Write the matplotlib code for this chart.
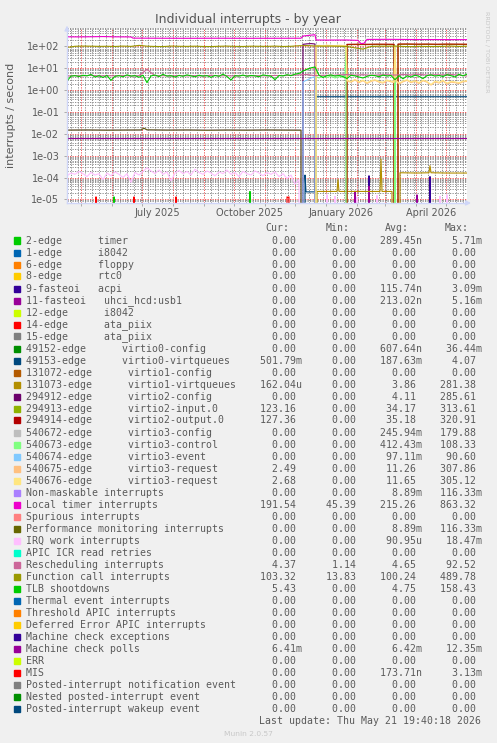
import matplotlib
matplotlib.use("Agg")
import matplotlib.pyplot as plt
import matplotlib.dates as mdates
from matplotlib.patches import Rectangle
from matplotlib.ticker import LogLocator, NullFormatter, FixedLocator, FuncFormatter
import numpy as np
from datetime import datetime, timedelta

W, H = 497, 743

title = "Individual interrupts - by year"
ylabel = "interrupts / second"
last_update = "Last update: Thu May 21 19:40:18 2026"
version = "Munin 2.0.57"
watermark = "RRDTOOL / TOBI OETIKER"
end_time = datetime(2026, 5, 21, 19, 40, 18)
span_days = 400
start_time = end_time - timedelta(days=span_days)

y_ticks = [1e-5, 1e-4, 1e-3, 1e-2, 1e-1, 1e0, 1e1, 1e2]
x_label_months = [datetime(2025, 7, 1), datetime(2025, 10, 1), datetime(2026, 1, 1), datetime(2026, 4, 1)]
x_label_texts = ["July 2025", "October 2025", "January 2026", "April 2026"]
headers = ["Cur:", "Min:", "Avg:", "Max:"]

labels = [
    "2-edge      timer",
    "1-edge      i8042",
    "6-edge      floppy",
    "8-edge      rtc0",
    "9-fasteoi   acpi",
    "11-fasteoi   uhci_hcd:usb1",
    "12-edge      i8042",
    "14-edge      ata_piix",
    "15-edge      ata_piix",
    "49152-edge      virtio0-config",
    "49153-edge      virtio0-virtqueues",
    "131072-edge      virtio1-config",
    "131073-edge      virtio1-virtqueues",
    "294912-edge      virtio2-config",
    "294913-edge      virtio2-input.0",
    "294914-edge      virtio2-output.0",
    "540672-edge      virtio3-config",
    "540673-edge      virtio3-control",
    "540674-edge      virtio3-event",
    "540675-edge      virtio3-request",
    "540676-edge      virtio3-request",
    "Non-maskable interrupts",
    "Local timer interrupts",
    "Spurious interrupts",
    "Performance monitoring interrupts",
    "IRQ work interrupts",
    "APIC ICR read retries",
    "Rescheduling interrupts",
    "Function call interrupts",
    "TLB shootdowns",
    "Thermal event interrupts",
    "Threshold APIC interrupts",
    "Deferred Error APIC interrupts",
    "Machine check exceptions",
    "Machine check polls",
    "ERR",
    "MIS",
    "Posted-interrupt notification event",
    "Nested posted-interrupt event",
    "Posted-interrupt wakeup event",
]

palette = ["#00CC00", "#0066B3", "#FF8000", "#FFCC00", "#330099", "#990099", "#CCFF00",
           "#FF0000", "#808080", "#008F00", "#00487D", "#B35A00", "#B38F00", "#6B006B",
           "#8FB300", "#B30000", "#BEBEBE", "#80FF80", "#80C9FF", "#FFC080", "#FFE680",
           "#AA80FF", "#EE00CC", "#FF8080", "#666600", "#FFBFFF", "#00FFCC", "#CC6699",
           "#999900"]
colors = palette + palette[:11]

# legend statistics (Cur, Min, Avg, Max)
cur = [0, 0, 0, 0, 0, 0, 0, 0, 0, 0,
       501.79e-3, 0, 162.04e-6, 0, 123.16, 127.36, 0, 0, 0, 2.49,
       2.68, 0, 191.54, 0, 0, 0, 0, 4.37, 103.32, 5.43,
       0, 0, 0, 0, 6.41e-3, 0, 0, 0, 0, 0]
mins = [0, 0, 0, 0, 0, 0, 0, 0, 0, 0,
        0, 0, 0, 0, 0, 0, 0, 0, 0, 0,
        0, 0, 45.39, 0, 0, 0, 0, 1.14, 13.83, 0,
        0, 0, 0, 0, 0, 0, 0, 0, 0, 0]
avgs = [289.45e-9, 0, 0, 0, 115.74e-9, 213.02e-9, 0, 0, 0, 607.64e-9,
        187.63e-3, 0, 3.86, 4.11, 34.17, 35.18, 245.94e-3, 412.43e-3, 97.11e-3, 11.26,
        11.65, 8.89e-3, 215.26, 0, 8.89e-3, 90.95e-6, 0, 4.65, 100.24, 4.75,
        0, 0, 0, 0, 6.42e-3, 0, 173.71e-9, 0, 0, 0]
maxs = [5.71e-3, 0, 0, 0, 3.09e-3, 5.16e-3, 0, 0, 0, 36.44e-3,
        4.07, 0, 281.38, 285.61, 313.61, 320.91, 179.88, 108.33, 90.60, 307.86,
        305.12, 116.33e-3, 863.32, 0, 116.33e-3, 18.47e-3, 0, 92.52, 489.78, 158.43,
        0, 0, 0, 0, 12.35e-3, 0, 3.13e-3, 0, 0, 0]

# series values, x = days since start of graph, 0 = no interrupts
timer_days = [46, 47, 48, 182, 183, 184]
timer_vals = [0, 1.3e-5, 0, 0, 2.3e-5, 0]

acpi_days = [301, 302, 303, 362, 363, 364]
acpi_vals = [0, 1.2e-4, 0, 0, 1.1e-4, 0]

uhci_days = [287, 288, 289, 301, 302, 303, 349, 350, 351]
uhci_vals = [0, 2.4e-5, 0, 0, 4e-5, 0, 0, 1.6e-5, 0]

vq0cfg_days = [248, 249, 250]
vq0cfg_vals = [0, 2.5e-5, 0]

vq0_days = [237, 238, 239, 248, 249, 400]
vq0_vals = [0, 1.3e-4, 2.2e-5, 2.2e-5, 0.5, 0.5]

vq1_days = [249, 250, 270, 271, 272, 313, 314, 315, 325, 326, 332, 333, 350, 362, 363, 364, 380, 400]
vq1_vals = [0, 2.3e-5, 2.3e-5, 8e-5, 2.3e-5, 2.3e-5, 7e-4, 2.3e-5, 2.3e-5, 0, 0, 1.65e-4,
            1.6e-4, 1.65e-4, 3.5e-4, 1.65e-4, 1.6e-4, 1.6e-4]

v2cfg_days = [235, 236, 240, 244, 248, 249]
v2cfg_vals = [0, 125, 132, 135, 130, 0]

v2_days = [279, 280, 290, 300, 310, 320, 327, 328, 330, 331, 340, 350, 360, 370, 380, 390, 400]
v2in_vals = [0, 120, 122, 121, 123, 122, 121, 0, 0, 124, 125, 123, 124, 122, 124, 123, 123]
v2out_vals = [0, 125, 127, 126, 128, 127, 126, 0, 0, 129, 130, 128, 129, 127, 129, 128, 127]

v3cfg_days = [248, 249, 250, 379, 380, 381]
v3cfg_vals = [0, 1.5e-5, 0, 0, 1.4e-5, 0]

v3ctl_days = [248, 249, 252, 256, 260, 264, 268, 272, 276, 278, 279, 280, 327, 328, 329]
v3ctl_vals = [0, 4.2, 3.6, 4.5, 3.8, 4.4, 3.6, 4.1, 3.9, 4.0, 100, 0, 0, 105, 0]

v3evt_days = [235, 236, 240, 244, 248, 249]
v3evt_vals = [0, 2.4, 2.9, 3.6, 4.2, 0]

req_days = [248, 249, 252, 256, 260, 264, 268, 272, 276, 279,
            280, 284, 288, 292, 296, 300, 304, 308, 312, 316,
            320, 324, 327, 328, 329, 332, 336, 340, 344, 348,
            352, 356, 360, 364, 368, 372, 376, 380, 384, 388,
            392, 396, 400]
req1_vals = [0, 105, 108, 104, 110, 106, 105, 109, 107, 106,
             2.6, 2.3, 2.9, 2.2, 2.7, 2.0, 2.5, 2.8, 2.3, 2.1,
             2.7, 2.4, 2.2, 100, 2.6, 1.9, 2.4, 2.8, 2.2, 2.5,
             2.0, 2.7, 2.3, 1.7, 2.4, 2.1, 2.6, 1.9, 2.3, 2.2,
             2.0, 2.4, 2.5]
req2_vals = [0, 110, 112, 108, 114, 110, 109, 113, 111, 110,
             2.8, 2.5, 3.1, 2.4, 2.9, 2.2, 2.7, 3.0, 2.5, 2.3,
             2.9, 2.6, 2.4, 105, 2.8, 2.1, 2.6, 3.0, 2.4, 2.7,
             2.2, 2.9, 2.5, 1.8, 2.6, 2.3, 2.8, 2.1, 2.5, 2.4,
             2.2, 2.6, 2.7]

ltimer_days = [0, 12, 24, 36, 48, 60, 64, 66, 90, 120, 150, 180, 210, 234, 236,
               240, 244, 248, 249, 260, 280, 291, 294, 297, 300, 320, 350, 380, 400]
ltimer_vals = [276, 274, 278, 284, 276, 274, 272, 240, 238, 236, 238, 236, 237, 238, 300,
               315, 330, 345, 198, 196, 198, 190, 135, 140, 210, 212, 208, 206, 205]

perf_days = [0, 20, 40, 60, 74, 77, 80, 100, 120, 140, 160, 180, 200, 220, 234, 235]
perf_vals = [0.0148, 0.0150, 0.0147, 0.0149, 0.0150, 0.0180, 0.0152, 0.0148,
             0.0150, 0.0146, 0.0149, 0.0147, 0.0150, 0.0148, 0.0147, 0]

irq_days = list(range(0, 233, 4)) + [235, 259, 260, 261, 267, 268, 269, 289, 290, 291,
                                     309, 310, 311, 372, 373, 374, 379, 380, 381]
irq_vals = [1.2e-4, 1.6e-4, 1.4e-4, 1.9e-4, 1.5e-4, 1.1e-4, 1.7e-4, 1.3e-4, 1.5e-4, 0.8e-4,
            1.6e-4, 1.2e-4, 1.8e-4, 1.4e-4, 1.0e-4, 1.5e-4, 0.6e-4, 1.7e-4, 1.3e-4, 1.9e-4,
            2.8e-4, 2.0e-4, 1.5e-4, 2.2e-4, 1.4e-4, 1.8e-4, 0.7e-4, 1.6e-4, 2.1e-4, 1.5e-4,
            1.9e-4, 1.3e-4, 2.4e-4, 1.7e-4, 1.4e-4, 2.0e-4, 1.6e-4, 1.2e-4, 1.8e-4, 1.5e-4,
            2.2e-4, 1.4e-4, 1.7e-4, 1.1e-4, 1.9e-4, 1.5e-4, 1.3e-4, 2.0e-4, 1.6e-4, 1.2e-4,
            1.7e-4, 1.4e-4, 1.8e-4, 1.1e-4, 1.5e-4, 0.9e-4, 1.3e-4, 0.5e-4, 0.8e-4,
            0, 0, 1.6e-5, 0, 0, 1.4e-5, 0, 0, 1.3e-5, 0,
            0, 1.5e-5, 0, 0, 1.4e-5, 0, 0, 1.6e-5, 0]

resched_days = list(range(0, 401, 8))
resched_vals = [4.4, 4.6, 4.5, 4.8, 4.4, 4.6, 4.5, 4.7, 4.4, 4.6,
                9.0, 4.5, 4.6, 4.4, 4.7, 4.5, 4.6, 4.4, 4.8, 4.5,
                4.6, 4.4, 4.7, 4.5, 4.6, 4.5, 4.7, 4.6, 4.8, 5.0,
                5.2, 4.6, 4.8, 4.7, 5.0, 5.2, 4.9, 5.1, 4.8, 5.0,
                5.1, 4.9, 5.2, 5.0, 5.3, 4.9, 5.1, 5.0, 5.2, 4.9,
                4.4]

fcall_days = list(range(0, 401, 8))
fcall_vals = [90, 102, 104, 103, 101, 102, 100, 104, 101, 112,
              103, 100, 99, 104, 102, 101, 103, 100, 99, 102,
              104, 101, 100, 103, 102, 101, 104, 100, 102, 108,
              110, 105, 103, 104, 102, 100, 86, 76, 100, 103,
              102, 104, 100, 98, 101, 100, 99, 101, 104, 100,
              103]

tlb_days = list(range(0, 401, 4))
tlb_vals = [2.6, 4.4, 4.6, 4.2, 4.8, 4.5, 5.2, 4.0, 4.6, 3.8,
            4.7, 2.8, 4.3, 4.6, 4.1, 5.0, 4.4, 4.6, 3.9, 4.8,
            2.2, 4.5, 4.9, 4.2, 5.3, 4.4, 4.6, 4.0, 4.7, 4.3,
            5.0, 4.5, 4.1, 4.8, 4.4, 4.6, 3.9, 4.7, 4.3, 5.4,
            4.2, 2.9, 4.6, 4.4, 4.9, 4.3, 4.7, 4.5, 4.1, 5.0,
            4.6, 4.4, 3.0, 4.7, 4.5, 5.1, 4.6, 5.4, 5.8, 7.5,
            9.0, 10.5, 11.5, 4.8, 3.8, 4.6, 5.0, 4.4, 4.7, 4.2,
            3.4, 4.8, 4.5, 4.0, 3.6, 4.3, 4.8, 4.6, 4.1, 4.9,
            4.4, 4.7, 3.0, 4.6, 3.3, 4.5, 4.0, 4.8, 4.3, 3.4,
            4.6, 5.0, 4.4, 4.7, 4.2, 5.1, 4.6, 4.0, 5.3, 4.5,
            5.4]

mce_days = [0, 400]
mce_vals = [0.0065, 0.0065]

mis_days = [28, 29, 30, 66, 67, 68, 108, 109, 110, 219, 220, 221, 222, 223]
mis_vals = [0, 1.3e-5, 0, 0, 1.3e-5, 0, 0, 1.3e-5, 0, 0, 1.3e-5, 1.2e-5, 1.3e-5, 0]

series = {
    0: (timer_days, timer_vals),
    4: (acpi_days, acpi_vals),
    5: (uhci_days, uhci_vals),
    9: (vq0cfg_days, vq0cfg_vals),
    10: (vq0_days, vq0_vals),
    12: (vq1_days, vq1_vals),
    13: (v2cfg_days, v2cfg_vals),
    14: (v2_days, v2in_vals),
    15: (v2_days, v2out_vals),
    16: (v3cfg_days, v3cfg_vals),
    17: (v3ctl_days, v3ctl_vals),
    18: (v3evt_days, v3evt_vals),
    19: (req_days, req1_vals),
    20: (req_days, req2_vals),
    21: (perf_days, perf_vals),
    22: (ltimer_days, ltimer_vals),
    24: (perf_days, perf_vals),
    25: (irq_days, irq_vals),
    27: (resched_days, resched_vals),
    28: (fcall_days, fcall_vals),
    29: (tlb_days, tlb_vals),
    34: (mce_days, mce_vals),
    36: (mis_days, mis_vals),
}


def si(v):
    if v == 0:
        return "  0.00 "
    exp = int(np.floor(np.log10(abs(v)) / 3))
    exp = max(min(exp, 1), -3)
    prefix = {-3: "n", -2: "u", -1: "m", 0: " ", 1: "k"}[exp]
    return f"{v / 1000.0 ** exp:6.2f}{prefix}"


font_color = "#5a5a5a"
axis_color = "#CFD6F8"

fig = plt.figure(figsize=(W / 100, H / 100), dpi=100, facecolor="#F0F0F0")
ax = fig.add_axes([67 / W, 1 - 203 / H, 400 / W, 175 / H], facecolor="white")

x0 = mdates.date2num(start_time)
for i in range(len(labels)):
    if i in series:
        d, v = series[i]
        ax.plot(x0 + np.array(d, dtype=float), v, color=colors[i], linewidth=0.8, zorder=2 + i * 0.01)

ax.set_yscale("log", nonpositive="clip")
ax.set_ylim(6.8e-6, 700)
ax.set_xlim(x0, x0 + span_days)

ax.yaxis.set_major_locator(FixedLocator(y_ticks))
ax.yaxis.set_minor_locator(LogLocator(base=10, subs=np.arange(2, 10), numticks=20))
ax.yaxis.set_major_formatter(FuncFormatter(lambda v, p: f"{v:.0e}"))
ax.yaxis.set_minor_formatter(NullFormatter())
ax.xaxis.set_major_locator(mdates.MonthLocator())
ax.xaxis.set_minor_locator(mdates.WeekdayLocator(byweekday=mdates.MO))
ax.xaxis.set_major_formatter(NullFormatter())
ax.xaxis.set_minor_formatter(NullFormatter())

ax.set_axisbelow(True)
ax.grid(which="major", color=(0.95, 0.25, 0.25, 0.28), linestyle=(0, (1.5, 1.5)), linewidth=0.6)
ax.grid(which="minor", color=(0.5, 0.5, 0.5, 0.22), linestyle=(0, (1.5, 1.5)), linewidth=0.6)
ax.tick_params(which="major", length=2, width=0.7, color="#aaaaaa", pad=3.5,
               labelsize=7, labelcolor=font_color)
ax.tick_params(which="minor", length=0)

for s in ["top", "right"]:
    ax.spines[s].set_visible(False)
for s in ["left", "bottom"]:
    ax.spines[s].set_color(axis_color)
    ax.spines[s].set_linewidth(1)
ax.annotate("", xy=(1.017, 0), xytext=(0.99, 0), xycoords="axes fraction",
            arrowprops=dict(arrowstyle="-|>", color=axis_color, lw=1, mutation_scale=7))
ax.annotate("", xy=(0, 1.03), xytext=(0, 0.98), xycoords="axes fraction",
            arrowprops=dict(arrowstyle="-|>", color=axis_color, lw=1, mutation_scale=7))

for m, t in zip(x_label_months, x_label_texts):
    ax.text(mdates.date2num(m) + 15, -9.7 / 175, t, transform=ax.get_xaxis_transform(),
            ha="center", va="center", fontsize=7, color=font_color)

fig.text(248 / W, 1 - 19 / H, title, ha="center", va="center", fontsize=9, color="#555555")
fig.text(11 / W, 1 - 115 / H, ylabel, rotation=90, ha="center", va="center",
         fontsize=8, color=font_color)
fig.text(487 / W, 1 - 52 / H, watermark, rotation=270, ha="center", va="center",
         fontsize=4.6, color="#C8C8C8")
fig.text(248 / W, 1 - 734 / H, version, ha="center", va="center", fontsize=5.4, color="#C8C8C8")

# legend block, monospace columns
mono_size = 7.15
char_w = 0.602 * mono_size * 100 / 72
text_x = 26.3
mono = dict(family="DejaVu Sans Mono", fontsize=mono_size, color=font_color, ha="left", va="baseline")
for k, h in enumerate(headers):
    fig.text((text_x + (40 + 10 * k) * char_w) / W, 1 - 231 / H, h, **mono)
for i, name in enumerate(labels):
    yb = 243.5 + 12 * i
    fig.patches.append(Rectangle((14 / W, 1 - yb / H), 6 / W, 6 / H,
                                 transform=fig.transFigure, color=colors[i]))
    row = name.ljust(39) + "   ".join(si(v) for v in (cur[i], mins[i], avgs[i], maxs[i]))
    fig.text(text_x / W, 1 - yb / H, row, **mono)
fig.text((text_x + 39 * char_w) / W, 1 - 723.5 / H, last_update, **mono)

fig.savefig("out.png", dpi=100, facecolor=fig.get_facecolor())
